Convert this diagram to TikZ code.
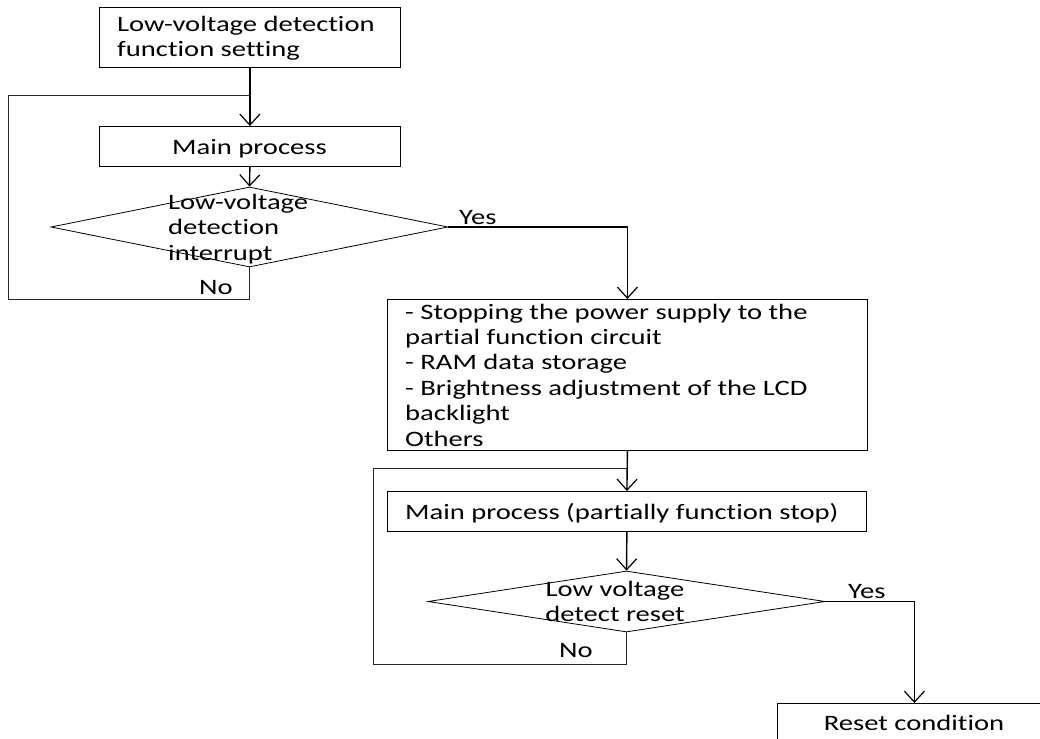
\documentclass[tikz,border=0pt]{standalone}
\usepackage{fontspec}
\setmainfont{Carlito}[FakeStretch=1.3, Ligatures=NoCommon]
\usetikzlibrary{shapes.geometric,arrows.meta}
\begin{document}
\begin{tikzpicture}[x=1pt,y=-1pt,
  box/.style={draw=black, line width=0.8pt, inner sep=0pt, anchor=north west},
  dia/.style={draw=black, diamond, line width=0.8pt, inner sep=0pt},
  txt/.style={anchor=base west, align=left, inner sep=0pt, font=\fontsize{22}{25.4}\selectfont},
  ctxt/.style={anchor=base, align=center, inner sep=0pt, font=\fontsize{22}{25.4}\selectfont},
  conn/.style={line width=1.4pt, -{Straight Barb[length=11pt,width=20pt,line width=1.2pt]}},
  flow/.style={line width=0.9pt, draw=black!85}]
\clip (0,0) rectangle (1040,738);
% boxes
\node[box, minimum width=301, minimum height=60] (b1) at (99,7) {};
\node[box, minimum width=301, minimum height=40] (b2) at (99,126) {};
\node[dia, minimum width=397, minimum height=80] (d1) at (249.5,227) {};
\node[box, minimum width=480, minimum height=151] (b3) at (387,299) {};
\node[box, minimum width=479, minimum height=40] (b4) at (387,491) {};
\node[dia, minimum width=397, minimum height=61] (d2) at (626.5,601.5) {};
\node[box, minimum width=274, minimum height=60] (b5) at (777,703) {};
% texts (anchor = baseline of last line)
\node[txt] (t1) at (117,57) {Low-voltage detection\\function setting};
\node[ctxt] (t2) at (249.5,154) {Main process};
\node[txt] (t3) at (168,260) {Low-voltage\\detection\\interrupt};
\node[txt] (t4) at (405,446) {- Stopping the power supply to the\\partial function circuit\\- RAM data storage\\- Brightness adjustment of the LCD\\backlight\\Others};
\node[txt] (t5) at (405,519) {Main process (partially function stop)};
\node[ctxt] (t6) at (615,621.7) {Low voltage\\detect reset};
\node[ctxt] (t7) at (914,730) {Reset condition};
% labels
\node[txt] (yes1) at (459,224) {Yes};
\node[txt] (no1) at (199,294) {No};
\node[txt] (yes2) at (848,598) {Yes};
\node[txt] (no2) at (559,657) {No};
% loop corners
\coordinate (l1a) at (8,299);
\coordinate (j1) at (249.5,95);
\coordinate (l2a) at (373,664);
\coordinate (j2) at (627,468);
% connectors
\draw[flow] (d1.south) |- (l1a) |- (j1);
\draw[flow] (d2.south) |- (l2a) |- (j2);
\draw[conn] (b1.south) -- (b2.north);
\draw[conn] (b2.south) -- (d1.north);
\draw[conn] (d1.east) -| (b3.north);
\draw[conn] (b3.south) -- (b4.north);
\draw[conn] (b4.south) -- (d2.north);
\draw[conn] (d2.east) -| (b5.north);
\end{tikzpicture}
\end{document}
